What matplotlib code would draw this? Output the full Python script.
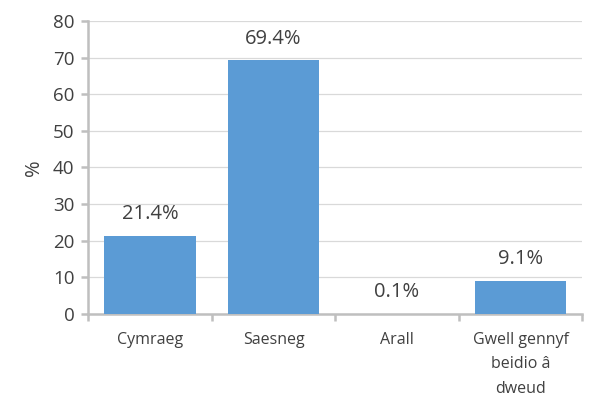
import numpy as np
import matplotlib.pyplot as plt

categories = ["Cymraeg", "Saesneg", "Arall", "Gwell gennyf\nbeidio â\ndweud"]
values = [21.4, 69.4, 0.1, 9.1]
labels = ["21.4%", "69.4%", "0.1%", "9.1%"]

plt.rcParams['font.family'] = ['Open Sans', 'DejaVu Sans']

fig = plt.figure(figsize=(5.96, 4.03), dpi=100)
ax = fig.add_axes([0.148, 0.221, 0.829, 0.727])

x = np.arange(len(categories))
ax.bar(x, values, width=0.74, color="#5B9BD5", zorder=3)

for xi, v, lab in zip(x, values, labels):
    ax.annotate(lab, (xi, v), xytext=(0, 8), textcoords="offset points",
                ha="center", va="bottom", fontsize=14.5, color="#404040")

ax.set_xlim(-0.5, len(categories) - 0.5)
ax.set_ylim(0, 80)
ax.set_yticks(range(0, 81, 10))
ax.tick_params(axis="y", labelsize=13.5, colors="#BFBFBF", labelcolor="#404040",
               length=5, width=1.8, pad=5)

ax.set_xticks(x)
ax.set_xticklabels(categories, fontsize=11.5, color="#404040", linespacing=1.7)
ax.tick_params(axis="x", which="major", length=0, pad=13)
ax.set_xticks(np.arange(-0.5, len(categories)), minor=True)
ax.tick_params(axis="x", which="minor", length=5, width=1.8, color="#BFBFBF")

ax.yaxis.grid(True, color="#D9D9D9", linewidth=0.9, zorder=0)
ax.set_axisbelow(True)
for s in ["top", "right"]:
    ax.spines[s].set_visible(False)
for s in ["left", "bottom"]:
    ax.spines[s].set_color("#BFBFBF")
    ax.spines[s].set_linewidth(1.8)

ax.set_ylabel("%", fontsize=14.5, color="#404040", labelpad=6)

fig.savefig("out.png", dpi=100)
